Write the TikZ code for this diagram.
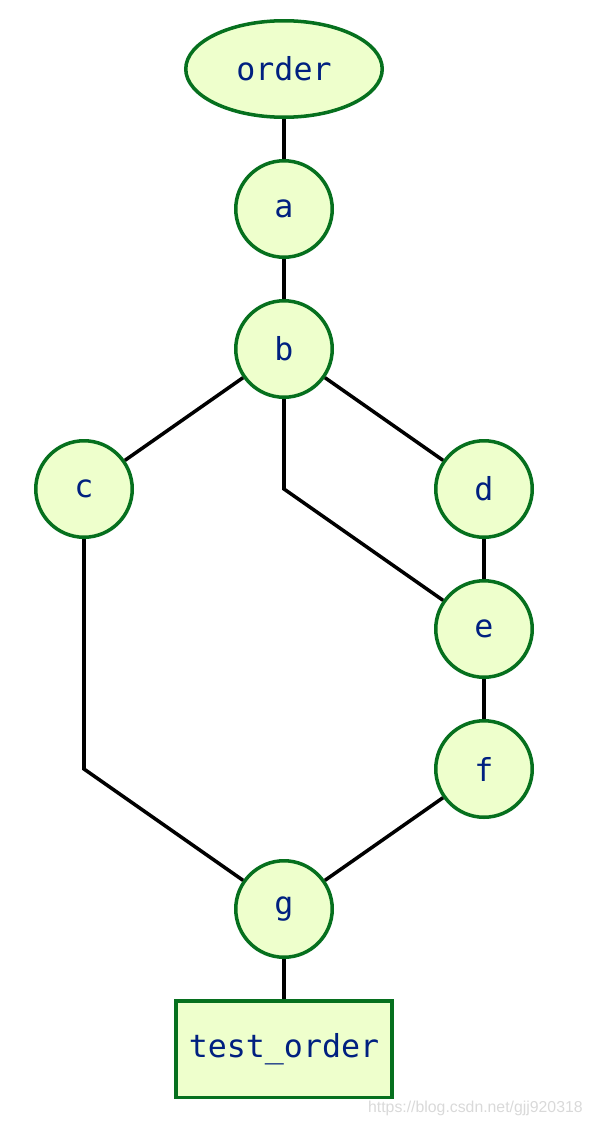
\documentclass[tikz,border=0pt]{standalone}
\usepackage{fontspec}
\setmonofont{DejaVu Sans Mono}
\newfontfamily\wmfont{Liberation Sans}
\usetikzlibrary{shapes.geometric}
\definecolor{nodefill}{HTML}{EEFFCC}
\definecolor{nodedraw}{HTML}{06701E}
\definecolor{nodetext}{HTML}{002080}
\begin{document}
\begin{tikzpicture}[x=0.02cm,y=-0.02cm,
  base/.style={draw=nodedraw,fill=nodefill,line width=2pt,text=nodetext,
    font=\ttfamily\fontsize{18}{20}\selectfont,inner sep=0pt},
  circ/.style={base,circle,minimum size=100*0.02cm-2pt},
  ell/.style={base,ellipse,minimum width=200*0.02cm-2pt,minimum height=100*0.02cm-2pt},
  rect/.style={base,rectangle,minimum width=220*0.02cm-2pt,minimum height=100*0.02cm-2pt},
  edge/.style={draw=black,line width=2pt}]
\useasboundingbox (0,0) rectangle (592,1126);
\node[ell] (order) at (284,69) {order};
\node[circ] (a) at (284,209) {a};
\node[circ] (b) at (284,349) {b};
\node[circ] (c) at (84,489) {c};
\node[circ] (d) at (484,489) {d};
\node[circ] (e) at (484,629) {e};
\node[circ] (f) at (484,769) {f};
\node[circ] (g) at (284,909) {g};
\node[rect] (t) at (284,1049) {test\_order};
\coordinate (be) at (284,489);
\coordinate (cg) at (84,769);
\path[edge] (order) -- (a);
\path[edge] (a) -- (b);
\path[edge] (b) -- (c);
\path[edge] (b) -- (d);
\path[edge] (b.south) -- (be) -- (e);
\path[edge] (d) -- (e);
\path[edge] (e) -- (f);
\path[edge] (c.south) -- (cg) -- (g);
\path[edge] (f) -- (g);
\path[edge] (g) -- (t);
\node[anchor=east,text=black!15,font=\wmfont\fontsize{9}{10}\selectfont,inner sep=0pt] (wm) at (583,1108) {https://blog.csdn.net/gjj920318};
\end{tikzpicture}
\end{document}
